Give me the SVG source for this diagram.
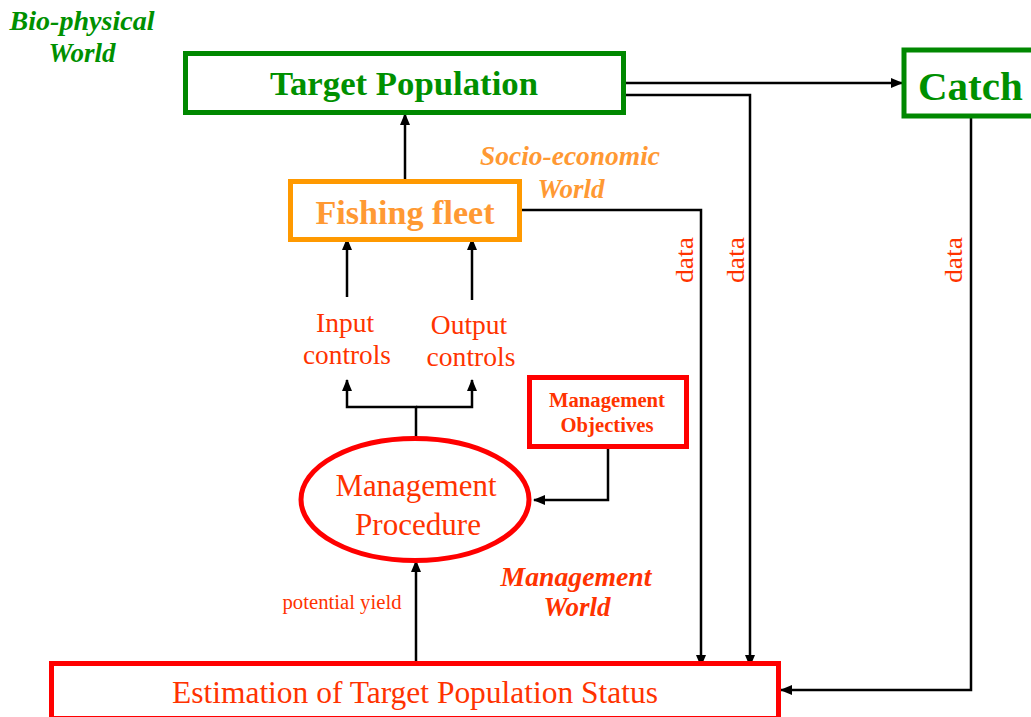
<svg xmlns="http://www.w3.org/2000/svg" width="1031" height="717" viewBox="0 0 1031 717">
<defs>
<marker id="ah" markerWidth="12" markerHeight="10" refX="11" refY="5" orient="auto" markerUnits="userSpaceOnUse">
<path d="M0,0 L12,5 L0,10 Z" fill="#000"/>
</marker>
<style>
.t{font-family:"Liberation Serif","Times New Roman",serif;text-anchor:middle}
.g{fill:#009000}
.r{fill:#ff3300}
.o{fill:#ff9933}
.b{font-weight:bold}
.i{font-style:italic}
.c{fill:none;stroke:#000;stroke-width:2.5}
.box{fill:#fff;stroke-width:5}
</style>
</defs>
<rect width="1031" height="717" fill="#fff"/>
<g id="connectors">
<path class="c" d="M624,83 H902" marker-end="url(#ah)"/>
<path class="c" d="M624,95 H750 V666" marker-end="url(#ah)"/>
<path class="c" d="M520,210 H701 V666" marker-end="url(#ah)"/>
<path class="c" d="M971,117 V690 H781" marker-end="url(#ah)"/>
<path class="c" d="M405,181 V114" marker-end="url(#ah)"/>
<path class="c" d="M347,297 V239" marker-end="url(#ah)"/>
<path class="c" d="M472,300 V239" marker-end="url(#ah)"/>
<path class="c" d="M416,437 V407 H347 V380" marker-end="url(#ah)"/>
<path class="c" d="M416,407 H472 V380" marker-end="url(#ah)"/>
<path class="c" d="M608,447 V500 H534" marker-end="url(#ah)"/>
<path class="c" d="M416,663 V561" marker-end="url(#ah)"/>
</g>
<g id="bio-label">
<text class="t g b i" x="82" y="30" font-size="27" textLength="145" lengthAdjust="spacingAndGlyphs">Bio-physical</text>
<text class="t g b i" x="82" y="62" font-size="27">World</text>
</g>
<g id="target-population">
<rect class="box" x="185.5" y="53.5" width="438" height="59" stroke="#008800"/>
<text class="t g b" x="404" y="95" font-size="34" textLength="268" lengthAdjust="spacingAndGlyphs">Target Population</text>
</g>
<g id="catch">
<rect class="box" x="904" y="50" width="140" height="66" stroke="#008800"/>
<text class="t g b" x="918" y="100" font-size="41" style="text-anchor:start">Catch</text>
</g>
<g id="socio-label">
<text class="t o b i" x="570" y="165" font-size="27" textLength="180" lengthAdjust="spacingAndGlyphs">Socio-economic</text>
<text class="t o b i" x="571" y="198" font-size="27">World</text>
</g>
<g id="fishing-fleet">
<rect class="box" x="290.5" y="181.5" width="229" height="58" stroke="#ff9900"/>
<text class="t o b" x="405" y="224" font-size="34" textLength="179" lengthAdjust="spacingAndGlyphs">Fishing fleet</text>
</g>
<g id="data-labels">
<text class="t r" transform="translate(693,260) rotate(-90)" font-size="25" textLength="46" lengthAdjust="spacingAndGlyphs">data</text>
<text class="t r" transform="translate(744,260) rotate(-90)" font-size="25" textLength="46" lengthAdjust="spacingAndGlyphs">data</text>
<text class="t r" transform="translate(962,260) rotate(-90)" font-size="25" textLength="46" lengthAdjust="spacingAndGlyphs">data</text>
</g>
<g id="input-controls">
<text class="t r" x="345" y="332" font-size="27.5">Input</text>
<text class="t r" x="347" y="364" font-size="27.5" textLength="88" lengthAdjust="spacingAndGlyphs">controls</text>
</g>
<g id="output-controls">
<text class="t r" x="469" y="334" font-size="27.5">Output</text>
<text class="t r" x="471" y="366" font-size="27.5" textLength="89" lengthAdjust="spacingAndGlyphs">controls</text>
</g>
<g id="management-objectives">
<rect class="box" x="529.5" y="377.5" width="157" height="69" stroke="#ff0000"/>
<text class="t r b" x="607" y="407" font-size="20" textLength="116" lengthAdjust="spacingAndGlyphs">Management</text>
<text class="t r b" x="607" y="432" font-size="20" textLength="93" lengthAdjust="spacingAndGlyphs">Objectives</text>
</g>
<g id="management-procedure">
<ellipse class="box" cx="415" cy="499.5" rx="114" ry="61" stroke="#ff0000"/>
<text class="t r" x="416" y="496" font-size="31" textLength="161" lengthAdjust="spacingAndGlyphs">Management</text>
<text class="t r" x="418" y="535" font-size="31" textLength="126" lengthAdjust="spacingAndGlyphs">Procedure</text>
</g>
<g id="potential-yield">
<text class="t r" x="342" y="609" font-size="20" textLength="119" lengthAdjust="spacingAndGlyphs">potential yield</text>
</g>
<g id="management-label">
<text class="t r b i" x="576" y="586" font-size="27" textLength="151" lengthAdjust="spacingAndGlyphs">Management</text>
<text class="t r b i" x="577" y="616" font-size="27">World</text>
</g>
<g id="estimation">
<rect class="box" x="51.5" y="663.5" width="727" height="55" stroke="#ff0000"/>
<text class="t r" x="415" y="703" font-size="31.5" textLength="486" lengthAdjust="spacingAndGlyphs">Estimation of Target Population Status</text>
</g>
</svg>
